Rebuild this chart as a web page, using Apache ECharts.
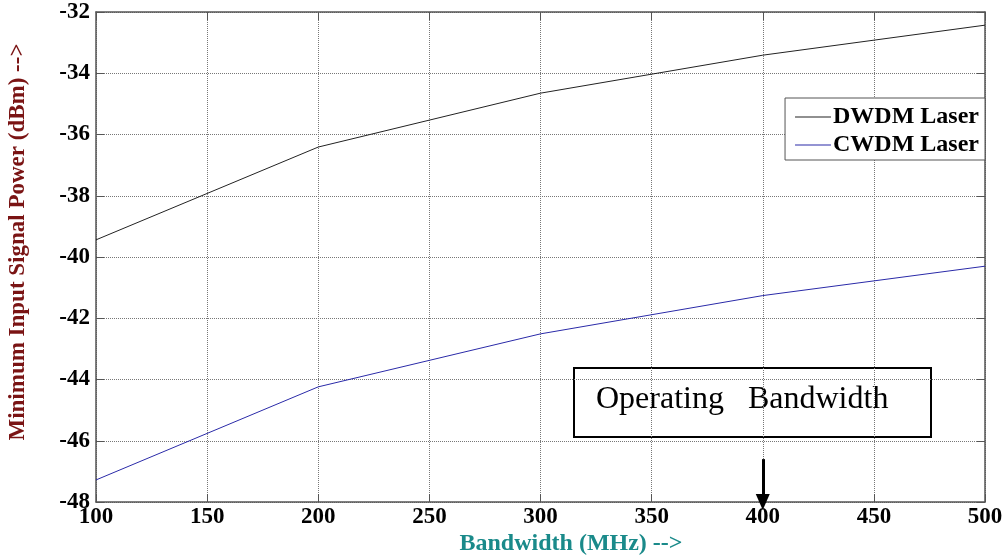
<!DOCTYPE html>
<html>
<head>
<meta charset="utf-8">
<script src="https://cdn.jsdelivr.net/npm/echarts@6/dist/echarts.min.js"></script>
<style>
  html, body { margin: 0; padding: 0; background: #fff; }
  #chart { width: 1008px; height: 559px; }
</style>
</head>
<body>
<div id="chart"></div>
<script>
// 带宽 (MHz) 与两种激光器的最小输入信号功率 (dBm)
const bandwidth = [100, 200, 300, 400, 500]
const dwdm = [-39.44, -36.41, -34.65, -33.41, -32.43]
const cwdm = [-47.28, -44.24, -42.51, -41.26, -40.30]
const operatingBw = 400
const arrowTop = -46.6

const serif = 'Liberation Serif'
const chart = echarts.init(document.getElementById('chart'))

const tickStyle = { inside: true, length: 8, lineStyle: { color: '#555' } }
const axisLine = { show: true, onZero: false, lineStyle: { color: '#555', width: 1.5 } }
const dotted = { show: true, lineStyle: { type: 'dotted', color: '#777', width: 1 } }

chart.setOption({
  animation: false,
  grid: { left: 96, right: 23, top: 12, bottom: 57 },
  legend: {
    right: 23, top: 98,
    orient: 'vertical',
    icon: 'rect',
    itemWidth: 36, itemHeight: 1, itemGap: 4,
    padding: [7, 6, 3, 10],
    backgroundColor: '#fff',
    borderColor: '#555', borderWidth: 1,
    textStyle: { fontFamily: serif, fontWeight: 'bold', fontSize: 24, color: '#000', padding: [0, 0, 0, -3] },
    data: ['DWDM Laser', 'CWDM Laser']
  },
  xAxis: [{
    type: 'value', min: 100, max: 500, interval: 50,
    axisLine, axisTick: tickStyle, splitLine: dotted,
    axisLabel: { fontFamily: serif, fontWeight: 'bold', fontSize: 23, color: '#000', margin: 4 }
  }, {
    type: 'value', position: 'top', min: 100, max: 500, interval: 50,
    axisLine, axisTick: tickStyle, splitLine: { show: false }, axisLabel: { show: false }
  }],
  yAxis: [{
    type: 'value', min: -48, max: -32, interval: 2,
    axisLine, axisTick: tickStyle, splitLine: dotted,
    axisLabel: { fontFamily: serif, fontWeight: 'bold', fontSize: 23, color: '#000', margin: 6 }
  }, {
    type: 'value', position: 'right', min: -48, max: -32, interval: 2,
    axisLine, axisTick: tickStyle, splitLine: { show: false }, axisLabel: { show: false }
  }],
  series: [{
    name: 'DWDM Laser',
    type: 'line',
    symbol: 'none',
    data: bandwidth.map((b, i) => [b, dwdm[i]]),
    itemStyle: { color: '#222' },
    lineStyle: { color: '#222', width: 1 }
  }, {
    name: 'CWDM Laser',
    type: 'line',
    symbol: 'none',
    data: bandwidth.map((b, i) => [b, cwdm[i]]),
    itemStyle: { color: '#2a2aa8' },
    lineStyle: { color: '#2a2aa8', width: 1 },
    // 工作带宽箭头
    markLine: {
      silent: true,
      symbol: ['none', 'triangle'],
      symbolSize: [14, 16],
      label: { show: false },
      lineStyle: { type: 'solid', color: '#000', width: 3 },
      data: [[{ coord: [operatingBw, arrowTop] }, { coord: [operatingBw, -48] }]]
    }
  }],
  graphic: [{
    type: 'group', left: 573, top: 367,
    children: [{
      type: 'rect',
      shape: { x: 0, y: 0, width: 357, height: 69 },
      style: { fill: '#fff', stroke: '#000', lineWidth: 2 }
    }, {
      type: 'text', x: 22, y: 32,
      style: { text: 'Operating   Bandwidth', font: '32px "Liberation Serif"', fill: '#000', textVerticalAlign: 'middle' }
    }]
  }, {
    type: 'text', x: 18, y: 242, rotation: Math.PI / 2,
    style: {
      text: 'Minimum Input Signal Power (dBm) -->',
      font: 'bold 23px "Liberation Serif"', fill: '#7a1414',
      textAlign: 'center', textVerticalAlign: 'middle'
    }
  }, {
    type: 'text', x: 571, y: 544,
    style: {
      text: 'Bandwidth (MHz) -->',
      font: 'bold 24px "Liberation Serif"', fill: '#1a8a8a',
      textAlign: 'center', textVerticalAlign: 'middle'
    }
  }]
})
</script>
</body>
</html>
